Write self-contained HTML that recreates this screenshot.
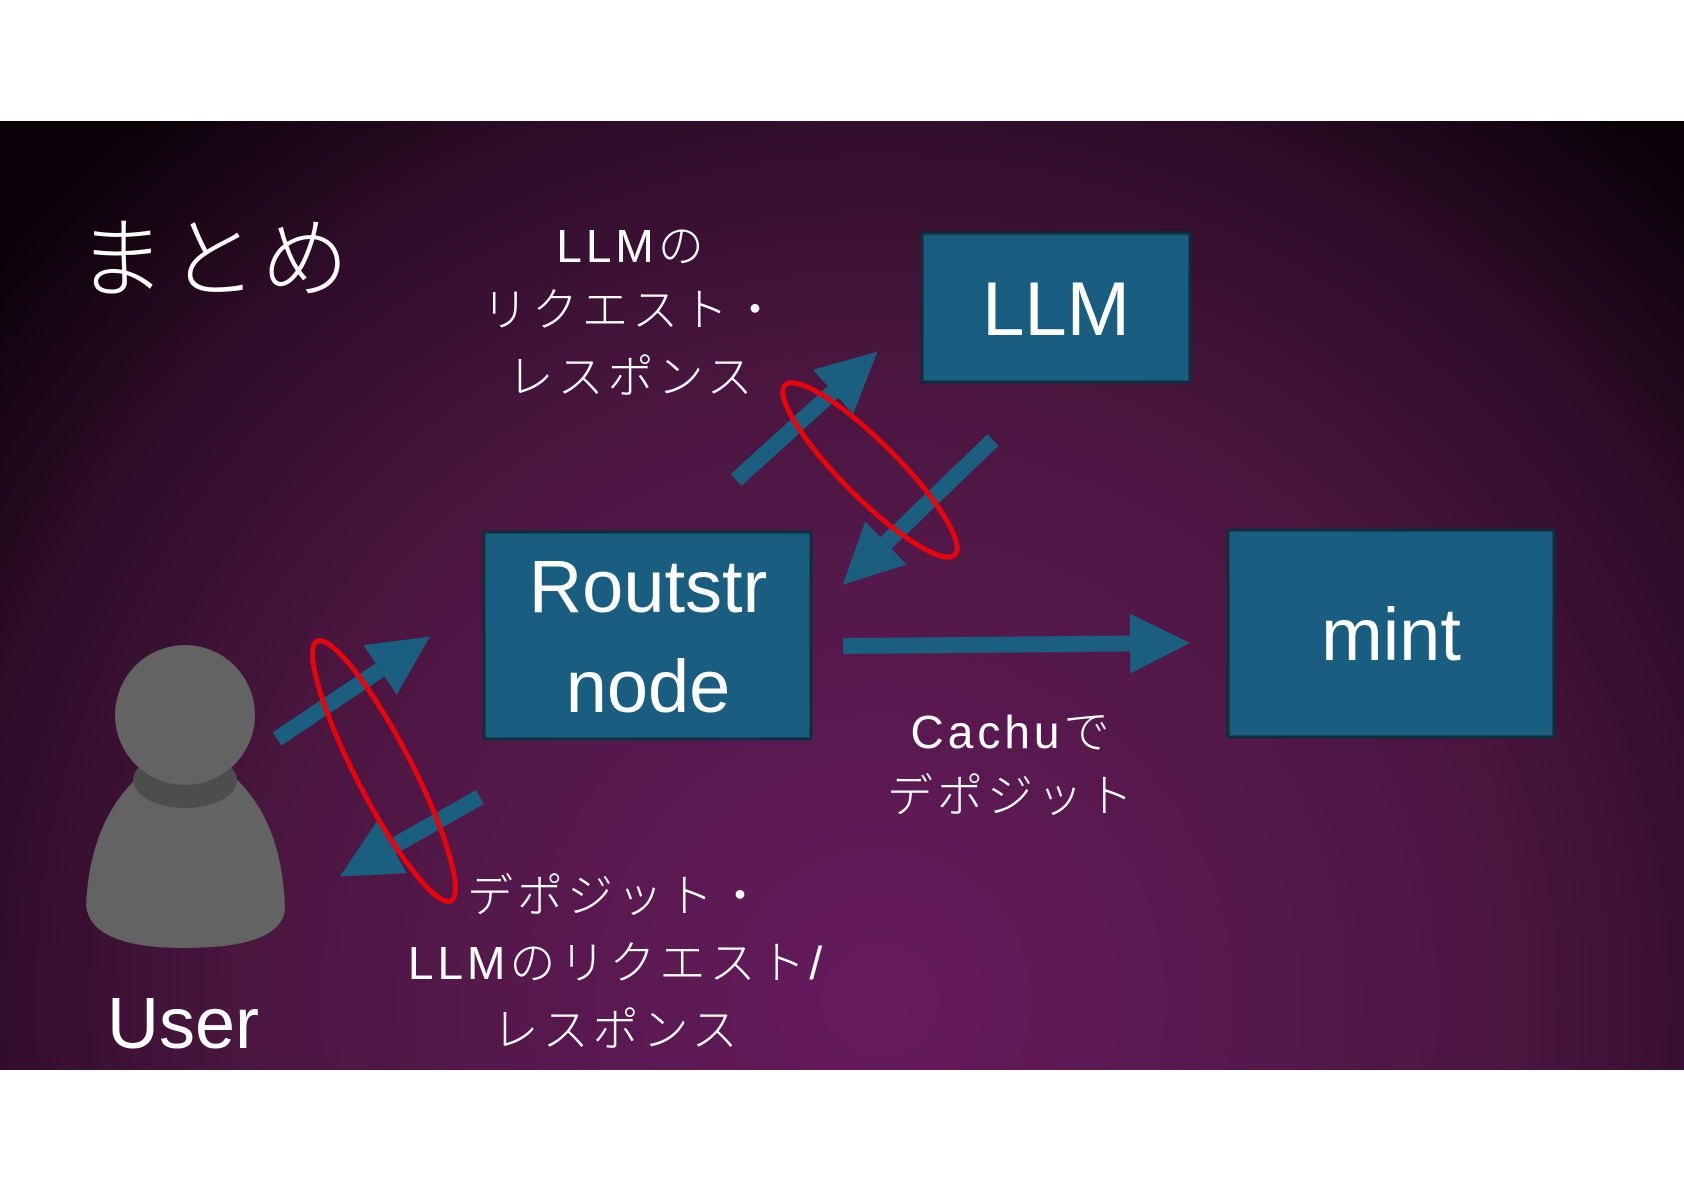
<!DOCTYPE html>
<html><head><meta charset="utf-8"><style>
html,body{margin:0;padding:0;width:1684px;height:1191px;background:#fff;overflow:hidden}
svg{display:block}
text{font-family:"Liberation Sans","Noto Sans CJK JP",sans-serif;fill:#fff}
.lb{font-family:"Noto Sans CJK JP","Liberation Sans",sans-serif;font-weight:300;letter-spacing:4px}
</style></head><body>
<svg width="1684" height="1191" viewBox="0 0 1684 1191">
<defs>
<radialGradient id="bg" cx="880" cy="1000" r="1150" gradientUnits="userSpaceOnUse">
<stop offset="0" stop-color="#661b5e"/>
<stop offset="0.55" stop-color="#4a163f"/>
<stop offset="0.8" stop-color="#2e0c28"/>
<stop offset="1" stop-color="#0a0208"/>
</radialGradient>
<marker id="ah" viewBox="0 0 10 10" refX="0" refY="5" markerWidth="3.75" markerHeight="4" orient="auto" markerUnits="strokeWidth">
<path d="M0,0 L10,5 L0,10 z" fill="#1a5f80"/>
</marker>
</defs>
<rect x="0" y="121" width="1684" height="949" fill="url(#bg)"/>
<text class="lb" x="77" y="290" font-size="88" style="letter-spacing:4px">まとめ</text>

<g stroke="#1a5f80" stroke-width="16" fill="none">
<line x1="736" y1="480" x2="833" y2="392" marker-end="url(#ah)"/>
<line x1="993" y1="440" x2="886" y2="543" marker-end="url(#ah)"/>
<line x1="843" y1="646" x2="1130" y2="643.5" marker-end="url(#ah)"/>
<line x1="277" y1="739" x2="380" y2="670" marker-end="url(#ah)"/>
<line x1="480" y1="797" x2="392" y2="847" marker-end="url(#ah)"/>
</g>

<rect x="922" y="233" width="268" height="149" fill="#195e80" stroke="#0f2e3c" stroke-width="3"/>
<text x="1056" y="335" font-size="76" text-anchor="middle">LLM</text>
<rect x="484" y="532" width="327" height="207" fill="#195e80" stroke="#0f2e3c" stroke-width="3"/>
<text x="648" y="612" font-size="74" text-anchor="middle">Routstr</text>
<text x="648" y="712" font-size="74" text-anchor="middle">node</text>
<rect x="1228" y="530" width="326" height="207" fill="#195e80" stroke="#0f2e3c" stroke-width="3"/>
<text x="1391" y="660" font-size="74" text-anchor="middle">mint</text>

<ellipse cx="870" cy="470" rx="120" ry="28" transform="rotate(45 870 470)" fill="none" stroke="#e8040c" stroke-width="5"/>
<ellipse cx="384" cy="771" rx="146" ry="28" transform="rotate(62.7 384 771)" fill="none" stroke="#e8040c" stroke-width="5"/>

<g fill="#636363">
<path d="M86,905 Q90,820 140,775 L232,775 Q283,820 285,910 Q280,948 185,948 Q90,948 86,905 Z"/>
</g>
<ellipse cx="185" cy="780" rx="52" ry="28" fill="#4d4d4d"/>
<circle cx="185" cy="715" r="70" fill="#636363"/>
<text x="183" y="1048" font-size="72" text-anchor="middle">User</text>

<g class="lb" font-size="46" text-anchor="middle">
<text x="632" y="262">LLMの</text>
<text x="632" y="326">リクエスト・</text>
<text x="632" y="393">レスポンス</text>
<text x="1012" y="748">Cachuで</text>
<text x="1012" y="812">デポジット</text>
<text x="617" y="912">デポジット・</text>
<text x="617" y="979">LLMのリクエスト/</text>
<text x="617" y="1046">レスポンス</text>
</g>
</svg>
</body></html>
